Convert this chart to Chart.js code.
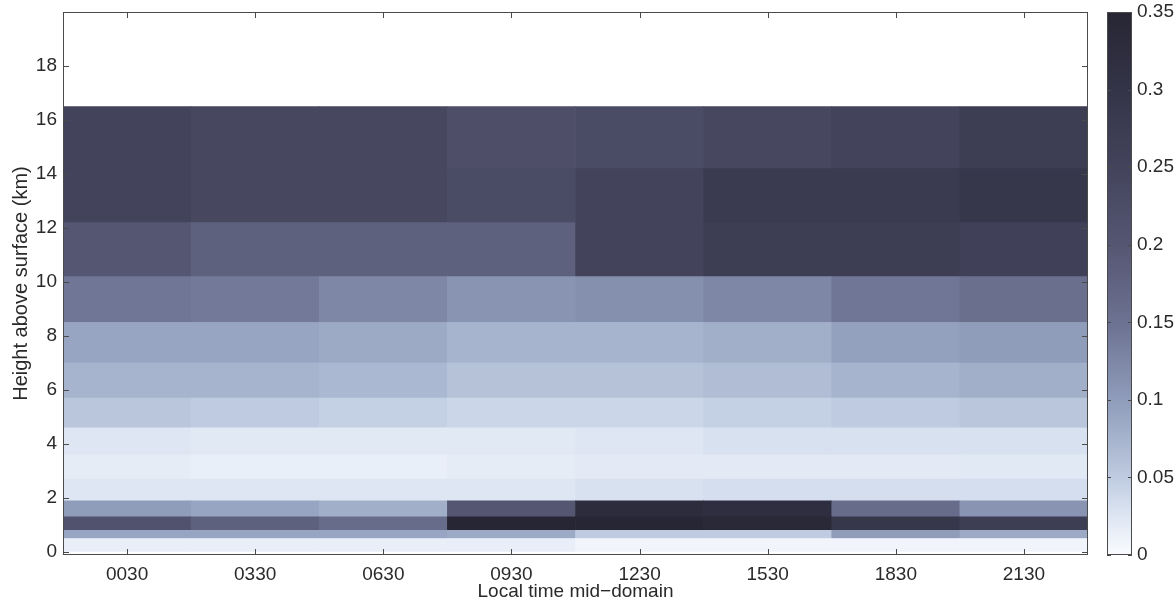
<!DOCTYPE html>
<html>
<head>
<meta charset="utf-8">
<script src="https://cdn.jsdelivr.net/npm/chart.js@4.4.1/dist/chart.umd.min.js"></script>
<style>
  html, body { margin: 0; padding: 0; background: #fff; }
  #wrap { width: 1175px; height: 604px; }
</style>
</head>
<body>
<div id="wrap"><canvas id="heatmap"></canvas></div>
<script>
// Local time mid-domain, one column each
const times = ['0030', '0330', '0630', '0930', '1230', '1530', '1830', '2130'];

// Layer edges (km above surface); each pair bounds one row of cells
const levelEdges = [0, 0.5, 0.8, 1.3, 1.9, 2.7, 3.6, 4.6, 5.7, 7.0, 8.5, 10.2, 12.2, 14.2, 16.5];

// Cell values, lowest layer first, one entry per time column
const cellValues = [
  [0.015, 0.015, 0.015, 0.015, 0.008, 0.008, 0.008, 0.008], // 0 - 0.5
  [0.09, 0.09, 0.09, 0.085, 0.05, 0.05, 0.10, 0.085],       // 0.5 - 0.8
  [0.21, 0.18, 0.16, 0.35, 0.35, 0.34, 0.29, 0.27],         // 0.8 - 1.3
  [0.10, 0.09, 0.08, 0.20, 0.33, 0.32, 0.16, 0.11],         // 1.3 - 1.9
  [0.025, 0.025, 0.025, 0.025, 0.03, 0.032, 0.032, 0.032],  // 1.9 - 2.7
  [0.018, 0.015, 0.015, 0.018, 0.02, 0.02, 0.02, 0.022],    // 2.7 - 3.6
  [0.025, 0.022, 0.022, 0.022, 0.025, 0.03, 0.03, 0.03],    // 3.6 - 4.6
  [0.055, 0.05, 0.045, 0.04, 0.04, 0.045, 0.05, 0.055],     // 4.6 - 5.7
  [0.075, 0.075, 0.07, 0.06, 0.06, 0.065, 0.075, 0.08],     // 5.7 - 7.0
  [0.09, 0.09, 0.085, 0.075, 0.075, 0.08, 0.095, 0.10],     // 7.0 - 8.5
  [0.145, 0.14, 0.125, 0.11, 0.115, 0.125, 0.145, 0.155],   // 8.5 - 10.2
  [0.20, 0.18, 0.18, 0.18, 0.25, 0.27, 0.27, 0.26],         // 10.2 - 12.2
  [0.25, 0.24, 0.24, 0.23, 0.25, 0.28, 0.28, 0.29],         // 12.2 - 14.2
  [0.25, 0.24, 0.24, 0.22, 0.23, 0.24, 0.25, 0.27]          // 14.2 - 16.5
];

const yTicks = [0, 2, 4, 6, 8, 10, 12, 14, 16, 18];
const cbTicks = [0, 0.05, 0.1, 0.15, 0.2, 0.25, 0.3, 0.35];
const cbLabels = ['0', '0.05', '0.1', '0.15', '0.2', '0.25', '0.3', '0.35'];

// reversed "bone"-like colour map, as printed
const cbMin = 0, cbMax = 0.35;
const cmap = [
  [0.0,   [250, 252, 255]],
  [0.025, [222, 230, 243]],
  [0.05,  [190, 203, 224]],
  [0.1,   [143, 156, 186]],
  [0.15,  [108, 114, 145]],
  [0.2,   [85, 86, 114]],
  [0.25,  [67, 67, 92]],
  [0.3,   [52, 52, 72]],
  [0.35,  [38, 38, 52]]
];

const FONT = "'Liberation Sans', Arial, Helvetica, sans-serif";
const INK = '#2a2a2a';
const CLEAR = 'rgba(0,0,0,0)';

function colorFor(v) {
    v = Math.max(cbMin, Math.min(cbMax, v));
    for (let i = 1; i < cmap.length; i++) {
        const [v1, c1] = cmap[i];
        const [v0, c0] = cmap[i - 1];
        if (v <= v1) {
            const f = (v - v0) / (v1 - v0);
            const c = c0.map((ch, k) => Math.round(ch + f * (c1[k] - ch)));
            return `rgb(${c[0]}, ${c[1]}, ${c[2]})`;
        }
    }
    return `rgb(${cmap[cmap.length - 1][1].join(',')})`;
}

// one floating-bar dataset per height layer
const datasets = cellValues.map((row, r) => ({
    label: `${levelEdges[r]}-${levelEdges[r + 1]} km`,
    data: times.map(() => [levelEdges[r], levelEdges[r + 1]]),
    backgroundColor: row.map(colorFor),
    borderWidth: 0,
    barPercentage: 1,
    categoryPercentage: 1,
    grouped: false,
    yAxisID: 'y'
}));

// MATLAB style box, inward ticks and the colour bar
const framePlugin = {
    id: 'frame',
    afterDatasetsDraw(chart) {
        const { ctx, chartArea: a, scales } = chart;
        ctx.save();
        ctx.strokeStyle = '#4a4a4a';
        ctx.lineWidth = 1;
        ctx.strokeRect(a.left + 0.5, a.top + 0.5, a.width - 1, a.height - 1);

        ctx.beginPath();
        scales.x.ticks.forEach((t, i) => {
            const px = Math.round(scales.x.getPixelForTick(i)) + 0.5;
            ctx.moveTo(px, a.bottom); ctx.lineTo(px, a.bottom - 6);
            ctx.moveTo(px, a.top); ctx.lineTo(px, a.top + 6);
        });
        scales.y.ticks.forEach(t => {
            const py = Math.round(scales.y.getPixelForValue(t.value)) + 0.5;
            ctx.moveTo(a.left, py); ctx.lineTo(a.left + 6, py);
            ctx.moveTo(a.right, py); ctx.lineTo(a.right - 6, py);
        });
        ctx.stroke();

        // colour bar
        const cb = scales.cb;
        const x0 = cb.left + 19, w = 25;
        const yb = cb.getPixelForValue(cbMin), yt = cb.getPixelForValue(cbMax);
        const g = ctx.createLinearGradient(0, yb, 0, yt);
        cmap.forEach(([v, c]) => g.addColorStop((v - cbMin) / (cbMax - cbMin), `rgb(${c.join(',')})`));
        ctx.fillStyle = g;
        ctx.fillRect(x0, yt, w, yb - yt);
        ctx.strokeRect(x0 + 0.5, yt + 0.5, w - 1, yb - yt - 1);
        ctx.beginPath();
        cb.ticks.forEach(t => {
            const py = Math.round(cb.getPixelForValue(t.value)) + 0.5;
            ctx.moveTo(x0, py); ctx.lineTo(x0 + 4, py);
            ctx.moveTo(x0 + w, py); ctx.lineTo(x0 + w - 4, py);
        });
        ctx.stroke();
        ctx.restore();
    }
};

new Chart(document.getElementById('heatmap'), {
    type: 'bar',
    data: { labels: times, datasets: datasets },
    options: {
        responsive: true,
        maintainAspectRatio: false,
        animation: false,
        layout: { padding: { top: 12, right: 0, bottom: 0, left: 0 } },
        plugins: {
            legend: { display: false },
            tooltip: { enabled: false }
        },
        scales: {
            x: {
                type: 'category',
                offset: true,
                grid: { drawOnChartArea: false, drawTicks: true, tickLength: 8, color: CLEAR },
                border: { display: false },
                ticks: { color: INK, font: { family: FONT, size: 19 }, padding: 0, maxRotation: 0, autoSkip: false },
                title: { display: true, text: 'Local time mid−domain', color: INK, font: { family: FONT, size: 19 }, padding: { top: 0, bottom: 1 } },
                afterFit: s => { s.height = 49; }
            },
            y: {
                type: 'linear',
                position: 'left',
                min: -0.11,
                max: 20,
                grid: { drawOnChartArea: false, drawTicks: true, tickLength: 6, color: CLEAR },
                border: { display: false },
                afterBuildTicks: s => { s.ticks = yTicks.map(v => ({ value: v })); },
                ticks: { color: INK, font: { family: FONT, size: 19 }, padding: 0, autoSkip: false },
                title: { display: true, text: 'Height above surface (km)', color: INK, font: { family: FONT, size: 20 }, padding: { top: 9, bottom: 0 } },
                afterFit: s => { s.width = 63; }
            },
            cb: {
                type: 'linear',
                position: 'right',
                min: cbMin,
                max: cbMax,
                grid: { drawOnChartArea: false, drawTicks: true, tickLength: 49, color: CLEAR },
                border: { display: false },
                afterBuildTicks: s => { s.ticks = cbTicks.map(v => ({ value: v })); },
                ticks: { color: INK, font: { family: FONT, size: 19 }, padding: 0, autoSkip: false,
                         callback: (v, i) => cbLabels[i] },
                afterFit: s => { s.width = 87; }
            }
        }
    },
    plugins: [framePlugin]
});
</script>
</body>
</html>
